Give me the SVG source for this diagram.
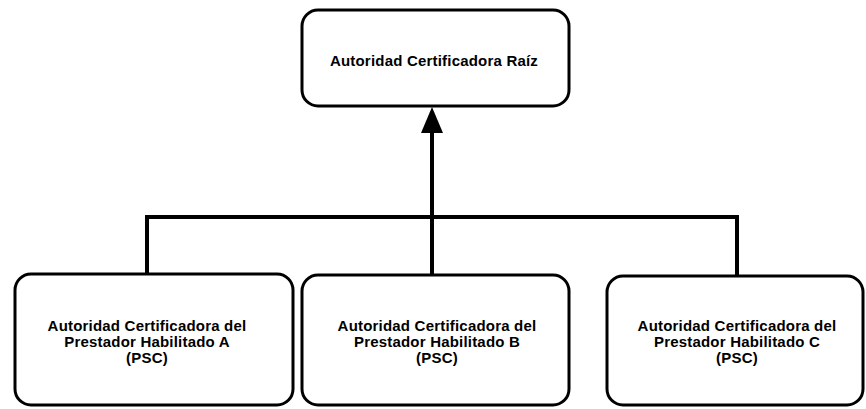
<svg xmlns="http://www.w3.org/2000/svg" width="866" height="409" viewBox="0 0 866 409">
<style>
.box{fill:#fff;stroke:#000;stroke-width:3}
.lbl{font-family:"Liberation Sans",Arial,sans-serif;font-weight:bold;font-size:15px;fill:#000;text-anchor:middle;letter-spacing:0.2px}
.con{fill:none;stroke:#000;stroke-width:4}
</style>
<g id="connectors">
<path class="con" d="M432,275 L432,130" />
<path d="M432,107 L443,133 L421,133 Z" fill="#000"/>
<path class="con" d="M147,275 L147,217 L737,217 L737,276" />
</g>
<g id="root">
<rect class="box" x="302" y="10" width="267" height="96" rx="16"/>
<text class="lbl" x="434" y="66">Autoridad Certificadora Raíz</text>
</g>
<g id="psc-a">
<rect class="box" x="15" y="274" width="278" height="131" rx="16"/>
<text class="lbl" x="147" y="331">Autoridad Certificadora del</text>
<text class="lbl" x="147" y="347">Prestador Habilitado A</text>
<text class="lbl" x="147" y="363">(PSC)</text>
</g>
<g id="psc-b">
<rect class="box" x="302" y="275" width="267" height="130" rx="16"/>
<text class="lbl" x="437" y="331">Autoridad Certificadora del</text>
<text class="lbl" x="437" y="347">Prestador Habilitado B</text>
<text class="lbl" x="437" y="363">(PSC)</text>
</g>
<g id="psc-c">
<rect class="box" x="607" y="276" width="256" height="129" rx="16"/>
<text class="lbl" x="737" y="331">Autoridad Certificadora del</text>
<text class="lbl" x="737" y="347">Prestador Habilitado C</text>
<text class="lbl" x="737" y="363">(PSC)</text>
</g>
</svg>
